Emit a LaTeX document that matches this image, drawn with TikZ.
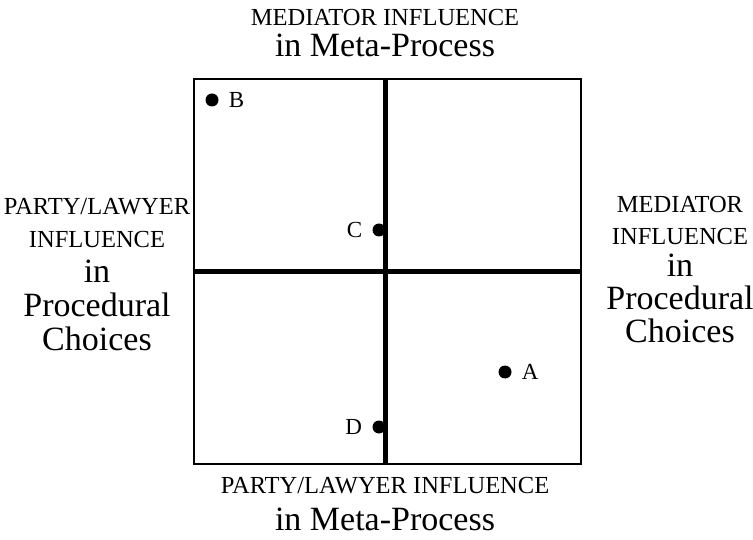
\documentclass[tikz,border=0pt]{standalone}
\usepackage{fontspec}
\setmainfont{Liberation Serif}
\usetikzlibrary{positioning}
\newcommand{\capsize}{\fontsize{24.5}{28}\selectfont}
\newcommand{\bigsize}{\fontsize{34}{38}\selectfont}
\tikzset{%
  caps text/.style={font=\capsize, anchor=base, inner sep=0pt},
  word text/.style={font=\bigsize, anchor=base, inner sep=0pt},
  frame line/.style={line width=2pt},
  axis line/.style={line width=5pt},
  spot/.style={circle, fill=black, inner sep=0pt, minimum size=13pt},
  spot label/.style={font=\fontsize{23}{26}\selectfont, inner sep=0pt},
}

\begin{document}
\begin{tikzpicture}[x=1pt, y=-1pt]
\useasboundingbox (0,0) rectangle (753,540);

% frame and axes
\coordinate (nw) at (194,79);
\coordinate (se) at (581,464);
\draw [frame line] (nw) rectangle (se);

\coordinate (axis-top) at (385,79);
\coordinate (axis-bottom) at (385,464);
\coordinate (axis-left) at (194,272);
\coordinate (axis-right) at (581,272);
\draw [axis line] (axis-top) -- (axis-bottom);
\draw [axis line] (axis-left) -- (axis-right);

%%%%%%%%%%%%%%%%%%%%%%%%%%%%%%%%%%%%%%%%%%%%%%%%%%%%%%%%%%%%%%%%%%%%%%%%%%%%%
% points

\node [spot] (point-A) at (505,372) {};
\node [spot] (point-B) at (212,100) {};
\node [spot] (point-C) at (379,230) {};
\node [spot] (point-D) at (379,427) {};

\node [spot label, right=10pt of point-A] (label-A) {A};
\node [spot label, right=10pt of point-B] (label-B) {B};
\node [spot label, left=10pt of point-C] (label-C) {C};
\node [spot label, left=10pt of point-D] (label-D) {D};

%%%%%%%%%%%%%%%%%%%%%%%%%%%%%%%%%%%%%%%%%%%%%%%%%%%%%%%%%%%%%%%%%%%%%%%%%%%%%
% labels

\node [caps text] (top-1) at (385,26) {MEDIATOR INFLUENCE};
\node [word text] (top-2) at (385,57) {in Meta-Process};

\node [caps text] (bottom-1) at (385,493) {PARTY/LAWYER INFLUENCE};
\node [word text] (bottom-2) at (385,530) {in Meta-Process};

\foreach \l [count=\i] in {PARTY/LAWYER,INFLUENCE}
  \node [caps text] (left-\i) at (97,182+33*\i) {\l};
\foreach \l [count=\i] in {in,Procedural,Choices}
  \node [word text] (left-\i+2) at (97,249+34*\i) {\l};

\foreach \l [count=\i] in {MEDIATOR,INFLUENCE}
  \node [caps text] (right-\i) at (680,181+32*\i) {\l};
\foreach \l [count=\i] in {in,Procedural,Choices}
  \node [word text] (right-\i+2) at (680,244+33*\i) {\l};

\end{tikzpicture}
\end{document}
